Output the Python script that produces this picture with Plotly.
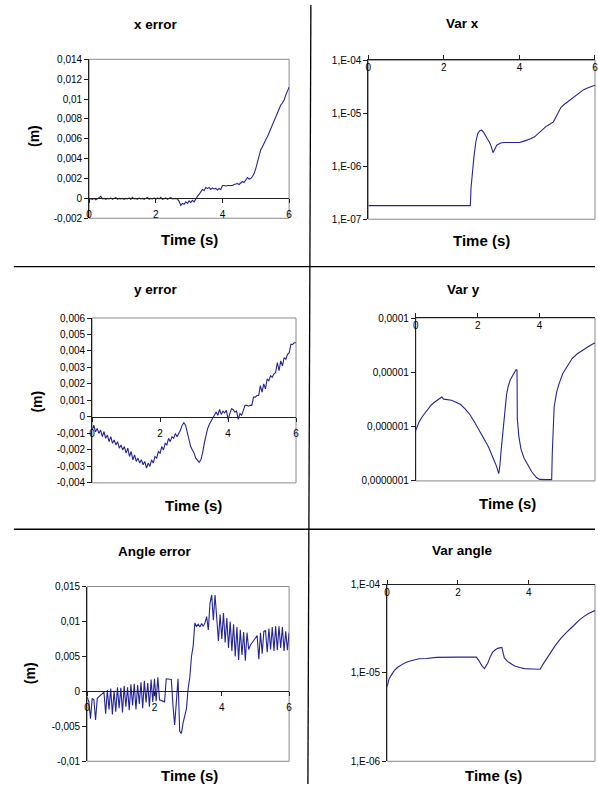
import numpy as np
import plotly.graph_objects as go

W, H = 598, 789

# ---------------- data ----------------
t_err = [round(i * 0.05, 2) for i in range(121)]

x_error_mm = [
    0.0, -0.05, -0.1, 0.0, -0.15, -0.05, 0.05, 0.2, -0.05, 0.0,
    -0.1, 0.0, -0.05, 0.05, -0.1, 0.0, 0.1, -0.1, 0.0, -0.05,
    0.0, -0.1, 0.0, -0.05, 0.05, -0.1, 0.1, -0.05, 0.0, -0.1,
    0.05, -0.05, 0.0, -0.1, 0.0, 0.1, -0.1, 0.0, -0.05, 0.05,
    -0.1, 0.05, -0.05, 0.1, -0.1, 0.0, 0.05, -0.1, 0.0, 0.1,
    -0.05, 0.0, 0.0, -0.05, -0.3, -0.7, -0.5, -0.6, -0.35, -0.5,
    -0.25, -0.4, -0.2, -0.35, 0.0, 0.2, 0.4, 0.6, 0.9, 0.8,
    1.1, 1.0, 1.1, 0.9, 1.05, 0.95, 1.0, 0.85, 1.0, 0.9,
    1.3, 1.3, 1.25, 1.3, 1.3, 1.35, 1.3, 1.4, 1.45, 1.5,
    1.4, 1.6, 1.7, 1.6, 1.9, 2.1, 1.95, 2.0, 2.2, 2.5,
    3.0, 3.6, 4.3, 4.9, 5.2, 5.6, 5.9, 6.2, 6.6, 7.0,
    7.4, 7.7, 8.1, 8.5, 8.9, 9.4, 9.6, 9.9, 10.4, 10.8,
    11.2,
]

y_error_mm = [
    -0.8, -0.5, -0.9, -0.7, -1.0, -0.8, -1.2, -0.9, -1.3, -1.1,
    -1.5, -1.2, -1.6, -1.4, -1.7, -1.5, -1.9, -1.7, -2.0, -1.8,
    -2.2, -1.9, -2.4, -2.1, -2.6, -2.3, -2.7, -2.5, -2.8, -2.6,
    -2.9, -2.7, -3.1, -2.8, -3.0, -2.6, -2.8, -2.4, -2.5, -2.1,
    -2.2, -1.8, -2.0, -1.6, -1.7, -1.3, -1.5, -1.2, -1.3, -1.0,
    -1.2, -1.0, -0.8, -0.5, -0.35, -0.5, -0.9, -1.4, -1.8, -2.0,
    -2.2, -2.5, -2.6, -2.75, -2.6, -2.2, -1.6, -1.1, -0.7, -0.45,
    -0.25, -0.05, 0.15, 0.3, 0.1, 0.45, 0.15, 0.35, 0.25, 0.4,
    -0.15, 0.2, 0.5, 0.45, 0.3, 0.35, -0.15, 0.2, 0.1, 0.4,
    0.7, 0.7, 0.65, 0.7, 0.7, 1.2, 1.2, 1.3, 1.3, 1.9,
    1.5, 2.0, 1.7, 2.3, 2.2, 2.5, 2.4, 2.6, 2.7, 3.3,
    2.8, 3.4, 3.1, 3.6, 3.5, 3.8, 3.9, 4.4, 4.4, 4.5,
    4.5,
]

angle_error_e3 = [
    -0.8, -1.5, -3.9, -1.0, -1.2, -4.1, -1.0, -0.8, -0.5, -0.3,
    -0.1, -3.2, 0.2, -2.6, 0.4, -3.3, 0.1, -2.9, 0.6, -2.4,
    0.5, -3.0, 0.8, -2.2, 0.6, -2.7, 1.0, -2.0, 1.1, -2.6,
    0.9, -1.8, 1.3, -2.4, 1.5, -1.6, 1.2, -2.2, 1.7, -1.5,
    1.8, -1.4, 2.0, -1.2, -1.3, -1.4, -1.5, 1.8, 1.8, 1.7,
    1.7, -2.0, -4.8, -1.5, 1.8, -5.7, -6.0, -4.5, -3.5, -2.5,
    0.4, 2.0, 5.0, 6.5, 9.8, 9.3, 9.6, 9.2, 9.7, 9.3,
    9.8, 10.7, 8.8, 12.6, 13.8, 10.2, 13.8, 9.6, 7.2, 11.0,
    7.5, 11.2, 7.0, 10.5, 6.2, 10.0, 5.8, 9.6, 5.0, 9.2,
    4.5, 8.8, 5.2, 8.5, 4.4, 8.4, 6.0, 6.6, 7.0, 7.4,
    7.6, 8.0, 4.6, 8.4, 5.4, 8.6, 8.7, 5.6, 9.0, 6.0,
    9.2, 5.8, 9.3, 5.9, 9.3, 6.2, 9.2, 5.8, 8.6, 5.9,
    8.4,
]

var_x_t = [0.0, 2.70, 2.72, 2.76, 2.80, 2.85, 2.90, 2.95, 3.00, 3.05,
           3.10, 3.15, 3.20, 3.25, 3.30, 3.35, 3.40, 3.50, 3.60, 3.80,
           4.00, 4.10, 4.20, 4.30, 4.40, 4.50, 4.60, 4.70, 4.80, 4.90,
           5.00, 5.05, 5.10, 5.20, 5.30, 5.40, 5.50, 5.60, 5.70, 5.80,
           5.90, 6.00]
var_x = [1.8e-7, 1.8e-7, 4e-7, 1.0e-6, 1.6e-6, 3.0e-6, 4.2e-6, 4.7e-6, 4.8e-6, 4.4e-6,
         3.7e-6, 3.3e-6, 2.9e-6, 2.4e-6, 1.8e-6, 2.2e-6, 2.5e-6, 2.75e-6, 2.8e-6, 2.8e-6,
         2.8e-6, 2.95e-6, 3.1e-6, 3.3e-6, 3.6e-6, 4.2e-6, 5.0e-6, 5.6e-6, 6.2e-6, 6.9e-6,
         9.5e-6, 1.15e-5, 1.3e-5, 1.5e-5, 1.7e-5, 1.9e-5, 2.1e-5, 2.45e-5, 2.8e-5, 3.0e-5,
         3.2e-5, 3.4e-5]

var_y_t = [0.00, 0.05, 0.10, 0.20, 0.30, 0.40, 0.50, 0.60, 0.70, 0.84,
           0.90, 1.00, 1.15, 1.30, 1.45, 1.60, 1.75, 1.90, 2.05, 2.20,
           2.35, 2.50, 2.60, 2.68, 2.72, 2.76, 2.82, 2.87, 2.93, 2.98,
           3.05, 3.14, 3.24, 3.27, 3.28, 3.33, 3.40, 3.50, 3.62, 3.75,
           3.90, 4.00, 4.20, 4.39, 4.41, 4.44, 4.47, 4.55, 4.63, 4.75,
           4.90, 5.05, 5.22, 5.40, 5.54, 5.70, 5.80, 6.00]
var_y = [8.5e-7, 1.05e-6, 1.2e-6, 1.5e-6, 1.8e-6, 2.15e-6, 2.5e-6, 2.8e-6, 3.1e-6, 3.5e-6,
         3.2e-6, 3.1e-6, 3.05e-6, 2.8e-6, 2.55e-6, 2.1e-6, 1.65e-6, 1.2e-6, 8.5e-7, 5.8e-7,
         4.2e-7, 2.6e-7, 1.9e-7, 1.35e-7, 2.0e-7, 3.8e-7, 9e-7, 2.0e-6, 3.8e-6, 5.4e-6,
         7.2e-6, 8.9e-6, 1.12e-5, 1.1e-5, 1.4e-6, 6.5e-7, 3.8e-7, 2.6e-7, 1.9e-7, 1.45e-7,
         1.15e-7, 1.06e-7, 1.05e-7, 1.05e-7, 3.3e-7, 1.2e-6, 2.3e-6, 4.3e-6, 6.2e-6, 9.5e-6,
         1.35e-5, 1.8e-5, 2.2e-5, 2.6e-5, 2.9e-5, 3.3e-5, 3.55e-5, 4.0e-5]

var_a_t = [0.00, 0.05, 0.10, 0.20, 0.30, 0.40, 0.50, 0.60, 0.75, 0.90,
           1.10, 1.40, 2.00, 2.52, 2.60, 2.68, 2.75, 2.84, 2.92, 2.98,
           3.05, 3.12, 3.24, 3.31, 3.40, 3.50, 3.60, 3.75, 3.87, 4.10,
           4.32, 4.40, 4.48, 4.62, 4.75, 4.90, 5.05, 5.27, 5.40, 5.55,
           5.70, 5.87, 6.00]
var_angle = [7.0e-6, 8.4e-6, 9.2e-6, 1.06e-5, 1.16e-5, 1.23e-5, 1.3e-5, 1.35e-5, 1.41e-5, 1.45e-5,
             1.46e-5, 1.5e-5, 1.51e-5, 1.51e-5, 1.36e-5, 1.2e-5, 1.12e-5, 1.29e-5, 1.55e-5, 1.72e-5,
             1.82e-5, 1.9e-5, 1.95e-5, 1.48e-5, 1.35e-5, 1.28e-5, 1.2e-5, 1.15e-5, 1.12e-5, 1.11e-5,
             1.1e-5, 1.25e-5, 1.41e-5, 1.74e-5, 2.05e-5, 2.45e-5, 2.85e-5, 3.45e-5, 3.9e-5, 4.35e-5,
             4.75e-5, 5.1e-5, 5.4e-5]

time_ticks = [0, 2, 4, 6]
time_labels = ["0", "2", "4", "6"]

xerr_ticks = [-0.002, 0, 0.002, 0.004, 0.006, 0.008, 0.01, 0.012, 0.014]
xerr_labels = ["-0,002", "0", "0,002", "0,004", "0,006", "0,008", "0,01", "0,012", "0,014"]
yerr_ticks = [-0.004, -0.003, -0.002, -0.001, 0, 0.001, 0.002, 0.003, 0.004, 0.005, 0.006]
yerr_labels = ["-0,004", "-0,003", "-0,002", "-0,001", "0", "0,001", "0,002", "0,003",
               "0,004", "0,005", "0,006"]
aerr_ticks = [-0.01, -0.005, 0, 0.005, 0.01, 0.015]
aerr_labels = ["-0,01", "-0,005", "0", "0,005", "0,01", "0,015"]

varx_ticks = [1e-7, 1e-6, 1e-5, 1e-4]
varx_labels = ["1,E-07", "1,E-06", "1,E-05", "1,E-04"]
vary_ticks = [1e-7, 1e-6, 1e-5, 1e-4]
vary_labels = ["0,0000001", "0,000001", "0,00001", "0,0001"]
vara_ticks = [1e-6, 1e-5, 1e-4]
vara_labels = ["1,E-06", "1,E-05", "1,E-04"]

# ---------------- styling ----------------
FONT = "Liberation Sans, Arial, sans-serif"
LINE = "#24249a"
TICKFONT = dict(family=FONT, size=10, color="black")
EPS = 0.002


def px_x(p):
    return p / W


def px_y(p):
    return 1 - p / H


fig = go.Figure()

# panel definitions: (pixel left, right, top, bottom)
panels = [
    dict(box=(87, 289, 55, 216), kind="lin", t=t_err, v=[v / 1000 for v in x_error_mm],
         yr=[-0.002, 0.014], yt=xerr_ticks, yl=xerr_labels, xr=[0, 6]),
    dict(box=(369, 598, 56, 217), kind="log", t=var_x_t, v=var_x,
         yr=[-7, -4], yt=varx_ticks, yl=varx_labels, xr=[0, 6.0]),
    dict(box=(90, 296, 317, 484), kind="lin", t=t_err, v=[v / 1000 for v in y_error_mm],
         yr=[-0.004, 0.006], yt=yerr_ticks, yl=yerr_labels, xr=[0, 6]),
    dict(box=(417, 598, 317, 482), kind="log", t=var_y_t, v=var_y,
         yr=[-7, -4], yt=vary_ticks, yl=vary_labels, xr=[0, 5.79]),
    dict(box=(85, 289, 589, 766), kind="lin", t=t_err, v=[v / 1000 for v in angle_error_e3],
         yr=[-0.01, 0.015], yt=aerr_ticks, yl=aerr_labels, xr=[0, 6]),
    dict(box=(388, 598, 587, 766), kind="log", t=var_a_t, v=var_angle,
         yr=[-6, -4], yt=vara_ticks, yl=vara_labels, xr=[0, 5.87]),
]

shapes = []
for i, p in enumerate(panels, start=1):
    xa = "x" if i == 1 else f"x{i}"
    ya = "y" if i == 1 else f"y{i}"
    l, r, t, b = p["box"]
    xdom = [px_x(l), px_x(r)]
    ydom = [px_y(b), px_y(t)]
    fig.add_trace(go.Scatter(x=p["t"], y=p["v"], mode="lines", xaxis=xa, yaxis=ya,
                             line=dict(color=LINE, width=1.1), showlegend=False,
                             cliponaxis=True))
    # frame of plot area
    shapes.append(dict(type="rect", xref=f"{xa} domain", yref=f"{ya} domain",
                       x0=0, x1=1, y0=0, y1=1, line=dict(color="#8a8a8a", width=1),
                       layer="below"))
    yax = dict(domain=ydom, anchor=xa, showgrid=False, zeroline=False,
               showline=True, linecolor="#202020", linewidth=1,
               ticks="outside", ticklen=4, tickcolor="#202020",
               tickvals=p["yt"], ticktext=p["yl"], tickfont=TICKFONT, fixedrange=True)
    xax = dict(domain=xdom, range=p["xr"], showgrid=False, zeroline=False,
               showline=True, linecolor="#202020", linewidth=1,
               ticks="outside", ticklen=4, tickcolor="#202020",
               tickvals=time_ticks, ticktext=time_labels, tickfont=TICKFONT,
               fixedrange=True)
    if p["kind"] == "lin":
        y0, y1 = p["yr"]
        span = y1 - y0
        yax.update(type="linear", range=[y0 - span * 1e-4, y1 + span * 1e-4])
        zero_pos = ydom[0] + (0 - y0) / (y1 - y0) * (ydom[1] - ydom[0])
        xax.update(anchor="free", position=zero_pos, side="bottom",
                   ticklabelstandoff=3)
    else:
        yax.update(type="log", range=[p["yr"][0] - EPS, p["yr"][1] + EPS])
        xax.update(anchor=ya, side="top", ticklabelposition="inside",
                   ticklabeloverflow="allow", ticklabelstandoff=3)
    fig.update_layout(**{("xaxis" if i == 1 else f"xaxis{i}"): xax,
                         ("yaxis" if i == 1 else f"yaxis{i}"): yax})

# dividers between panels
shapes.append(dict(type="line", xref="paper", yref="paper",
                   x0=px_x(311), x1=px_x(308), y0=1, y1=0,
                   line=dict(color="black", width=1.3)))
for yy in (265, 531):
    shapes.append(dict(type="line", xref="paper", yref="paper",
                       x0=px_x(11), x1=1, y0=px_y(yy), y1=px_y(yy),
                       line=dict(color="black", width=1.3)))

annotations = []
titles = [("x error", 155, 20), ("Var x", 464, 19), ("y error", 155, 288),
          ("Var y", 465, 288), ("Angle error", 154, 554), ("Var angle", 464, 552)]
for txt, cx, cy in titles:
    annotations.append(dict(text=f"<b>{txt}</b>", x=px_x(cx), y=px_y(cy), xref="paper",
                            yref="paper", showarrow=False, xanchor="center",
                            yanchor="middle", font=dict(family=FONT, size=13.5, color="black")))
time_pos = [(188, 238), (483, 239), (192, 507), (510, 505), (188, 780), (495, 780)]
for cx, cy in time_pos:
    annotations.append(dict(text="<b>Time (s)</b>", x=px_x(cx), y=px_y(cy), xref="paper",
                            yref="paper", showarrow=False, xanchor="center",
                            yanchor="middle", font=dict(family=FONT, size=15, color="black")))
m_pos = [(32, 133), (34, 402), (28, 677)]
for cx, cy in m_pos:
    annotations.append(dict(text="<b>(m)</b>", x=px_x(cx), y=px_y(cy), xref="paper",
                            yref="paper", showarrow=False, xanchor="center",
                            yanchor="middle", textangle=-90,
                            font=dict(family=FONT, size=14, color="black")))

fig.update_layout(width=W, height=H, margin=dict(l=0, r=0, t=0, b=0),
                  paper_bgcolor="white", plot_bgcolor="white",
                  shapes=shapes, annotations=annotations, showlegend=False,
                  font=dict(family=FONT, color="black"))

fig.write_html("out.html", config={"displayModeBar": False})
